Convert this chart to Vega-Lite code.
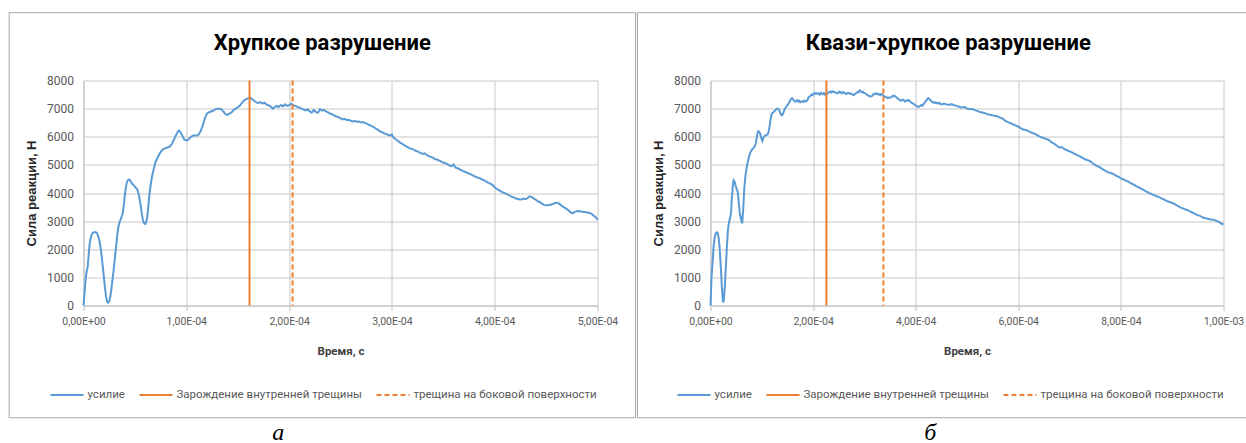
{
  "$schema": "https://vega.github.io/schema/vega-lite/v6.json",
  "padding": {"left": 8.5, "top": 11.5, "right": 0, "bottom": 0},
  "background": "white",
  "datasets": {
    "brittle": [
      {"t":0,"f":0},{"t":1e-6,"f":450},{"t":2e-6,"f":900},{"t":3e-6,"f":1200},{"t":4e-6,"f":1350},{"t":5e-6,"f":1800},{"t":6e-6,"f":2200},{"t":7e-6,"f":2400},{"t":8e-6,"f":2520},{"t":9e-6,"f":2580},{"t":10e-6,"f":2600},{"t":11e-6,"f":2610},{"t":12e-6,"f":2600},{"t":13e-6,"f":2580},{"t":14e-6,"f":2500},{"t":15e-6,"f":2380},{"t":16e-6,"f":2200},{"t":17e-6,"f":1950},{"t":18e-6,"f":1650},{"t":19e-6,"f":1300},{"t":20e-6,"f":950},{"t":21e-6,"f":600},{"t":22e-6,"f":300},{"t":23e-6,"f":130},{"t":24e-6,"f":100},{"t":25e-6,"f":150},{"t":26e-6,"f":300},{"t":27e-6,"f":550},{"t":28e-6,"f":850},{"t":29e-6,"f":1150},{"t":30e-6,"f":1500},{"t":31e-6,"f":1850},{"t":32e-6,"f":2200},{"t":33e-6,"f":2550},{"t":34e-6,"f":2800},{"t":35e-6,"f":2950},{"t":36e-6,"f":3050},{"t":37e-6,"f":3150},{"t":38e-6,"f":3250},{"t":39e-6,"f":3500},{"t":40e-6,"f":3850},{"t":41e-6,"f":4150},{"t":42e-6,"f":4350},{"t":43e-6,"f":4450},{"t":44e-6,"f":4480},{"t":45e-6,"f":4470},{"t":46e-6,"f":4400},{"t":47e-6,"f":4350},{"t":48e-6,"f":4300},{"t":49e-6,"f":4270},{"t":50e-6,"f":4220},{"t":51e-6,"f":4180},{"t":52e-6,"f":4150},{"t":53e-6,"f":4050},{"t":54e-6,"f":3900},{"t":55e-6,"f":3700},{"t":56e-6,"f":3450},{"t":57e-6,"f":3200},{"t":58e-6,"f":3000},{"t":59e-6,"f":2920},{"t":60e-6,"f":2900},{"t":61e-6,"f":2950},{"t":62e-6,"f":3150},{"t":63e-6,"f":3500},{"t":64e-6,"f":3900},{"t":65e-6,"f":4200},{"t":66e-6,"f":4450},{"t":67e-6,"f":4650},{"t":68e-6,"f":4800},{"t":69e-6,"f":4950},{"t":70e-6,"f":5100},{"t":72e-6,"f":5250},{"t":74e-6,"f":5400},{"t":76e-6,"f":5500},{"t":78e-6,"f":5570},{"t":80e-6,"f":5600},{"t":82e-6,"f":5620},{"t":84e-6,"f":5650},{"t":86e-6,"f":5750},{"t":88e-6,"f":5900},{"t":90e-6,"f":6050},{"t":92e-6,"f":6200},{"t":93e-6,"f":6220},{"t":94e-6,"f":6180},{"t":96e-6,"f":6050},{"t":98e-6,"f":5900},{"t":100e-6,"f":5870},{"t":102e-6,"f":5900},{"t":104e-6,"f":5980},{"t":106e-6,"f":6030},{"t":108e-6,"f":6050},{"t":110e-6,"f":6040},{"t":112e-6,"f":6080},{"t":114e-6,"f":6200},{"t":116e-6,"f":6400},{"t":118e-6,"f":6650},{"t":120e-6,"f":6820},{"t":122e-6,"f":6870},{"t":124e-6,"f":6900},{"t":126e-6,"f":6920},{"t":128e-6,"f":6970},{"t":130e-6,"f":7000},{"t":132e-6,"f":7000},{"t":134e-6,"f":6980},{"t":136e-6,"f":6900},{"t":138e-6,"f":6800},{"t":140e-6,"f":6780},{"t":142e-6,"f":6820},{"t":144e-6,"f":6870},{"t":146e-6,"f":6950},{"t":148e-6,"f":7000},{"t":150e-6,"f":7050},{"t":152e-6,"f":7100},{"t":154e-6,"f":7200},{"t":156e-6,"f":7280},{"t":158e-6,"f":7330},{"t":160e-6,"f":7370},{"t":162e-6,"f":7390},{"t":164e-6,"f":7340},{"t":166e-6,"f":7280},{"t":168e-6,"f":7220},{"t":170e-6,"f":7200},{"t":172e-6,"f":7230},{"t":174e-6,"f":7180},{"t":176e-6,"f":7210},{"t":178e-6,"f":7150},{"t":180e-6,"f":7120},{"t":182e-6,"f":7080},{"t":184e-6,"f":7000},{"t":186e-6,"f":7050},{"t":188e-6,"f":7100},{"t":190e-6,"f":7060},{"t":192e-6,"f":7130},{"t":194e-6,"f":7080},{"t":196e-6,"f":7150},{"t":198e-6,"f":7100},{"t":200e-6,"f":7120},{"t":202e-6,"f":7180},{"t":204e-6,"f":7120},{"t":206e-6,"f":7100},{"t":208e-6,"f":7060},{"t":210e-6,"f":7040},{"t":212e-6,"f":7000},{"t":214e-6,"f":6970},{"t":216e-6,"f":6940},{"t":218e-6,"f":6980},{"t":220e-6,"f":6900},{"t":222e-6,"f":6860},{"t":224e-6,"f":6950},{"t":226e-6,"f":6880},{"t":228e-6,"f":6850},{"t":230e-6,"f":6980},{"t":232e-6,"f":6930},{"t":234e-6,"f":6950},{"t":236e-6,"f":6900},{"t":238e-6,"f":6870},{"t":240e-6,"f":6820},{"t":242e-6,"f":6800},{"t":244e-6,"f":6750},{"t":246e-6,"f":6720},{"t":248e-6,"f":6700},{"t":250e-6,"f":6660},{"t":252e-6,"f":6620},{"t":254e-6,"f":6640},{"t":256e-6,"f":6590},{"t":258e-6,"f":6600},{"t":260e-6,"f":6570},{"t":262e-6,"f":6540},{"t":264e-6,"f":6560},{"t":266e-6,"f":6530},{"t":268e-6,"f":6540},{"t":270e-6,"f":6510},{"t":272e-6,"f":6520},{"t":274e-6,"f":6490},{"t":276e-6,"f":6460},{"t":278e-6,"f":6420},{"t":280e-6,"f":6380},{"t":282e-6,"f":6350},{"t":284e-6,"f":6300},{"t":286e-6,"f":6260},{"t":288e-6,"f":6200},{"t":290e-6,"f":6170},{"t":292e-6,"f":6130},{"t":294e-6,"f":6100},{"t":296e-6,"f":6070},{"t":298e-6,"f":6040},{"t":300e-6,"f":6080},{"t":301e-6,"f":6000},{"t":302e-6,"f":5960},{"t":304e-6,"f":5900},{"t":306e-6,"f":5850},{"t":308e-6,"f":5790},{"t":310e-6,"f":5750},{"t":312e-6,"f":5700},{"t":314e-6,"f":5660},{"t":316e-6,"f":5620},{"t":318e-6,"f":5580},{"t":320e-6,"f":5560},{"t":322e-6,"f":5520},{"t":324e-6,"f":5490},{"t":326e-6,"f":5460},{"t":328e-6,"f":5420},{"t":330e-6,"f":5390},{"t":332e-6,"f":5410},{"t":334e-6,"f":5350},{"t":336e-6,"f":5310},{"t":338e-6,"f":5280},{"t":340e-6,"f":5260},{"t":342e-6,"f":5200},{"t":344e-6,"f":5190},{"t":346e-6,"f":5150},{"t":348e-6,"f":5120},{"t":350e-6,"f":5080},{"t":352e-6,"f":5060},{"t":354e-6,"f":5020},{"t":356e-6,"f":4980},{"t":358e-6,"f":4950},{"t":360e-6,"f":5010},{"t":362e-6,"f":4900},{"t":364e-6,"f":4880},{"t":366e-6,"f":4840},{"t":368e-6,"f":4800},{"t":370e-6,"f":4770},{"t":372e-6,"f":4740},{"t":374e-6,"f":4700},{"t":376e-6,"f":4680},{"t":378e-6,"f":4640},{"t":380e-6,"f":4600},{"t":382e-6,"f":4570},{"t":384e-6,"f":4540},{"t":386e-6,"f":4520},{"t":388e-6,"f":4470},{"t":390e-6,"f":4450},{"t":392e-6,"f":4400},{"t":394e-6,"f":4360},{"t":396e-6,"f":4330},{"t":398e-6,"f":4280},{"t":400e-6,"f":4200},{"t":402e-6,"f":4150},{"t":404e-6,"f":4100},{"t":406e-6,"f":4060},{"t":408e-6,"f":4020},{"t":410e-6,"f":3990},{"t":412e-6,"f":3960},{"t":414e-6,"f":3920},{"t":416e-6,"f":3880},{"t":418e-6,"f":3850},{"t":420e-6,"f":3810},{"t":422e-6,"f":3790},{"t":424e-6,"f":3770},{"t":426e-6,"f":3770},{"t":428e-6,"f":3800},{"t":430e-6,"f":3780},{"t":432e-6,"f":3820},{"t":434e-6,"f":3880},{"t":436e-6,"f":3860},{"t":438e-6,"f":3800},{"t":440e-6,"f":3760},{"t":442e-6,"f":3700},{"t":444e-6,"f":3680},{"t":446e-6,"f":3620},{"t":448e-6,"f":3580},{"t":450e-6,"f":3560},{"t":452e-6,"f":3570},{"t":454e-6,"f":3580},{"t":456e-6,"f":3600},{"t":458e-6,"f":3630},{"t":460e-6,"f":3660},{"t":462e-6,"f":3640},{"t":464e-6,"f":3580},{"t":466e-6,"f":3520},{"t":468e-6,"f":3480},{"t":470e-6,"f":3430},{"t":472e-6,"f":3380},{"t":474e-6,"f":3300},{"t":476e-6,"f":3280},{"t":478e-6,"f":3330},{"t":480e-6,"f":3350},{"t":482e-6,"f":3360},{"t":484e-6,"f":3340},{"t":486e-6,"f":3330},{"t":488e-6,"f":3320},{"t":490e-6,"f":3310},{"t":492e-6,"f":3290},{"t":494e-6,"f":3270},{"t":496e-6,"f":3200},{"t":498e-6,"f":3150},{"t":500e-6,"f":3050}
    ],
    "quasi": [
      {"t":0,"f":0},{"t":2e-6,"f":1000},{"t":4e-6,"f":1500},{"t":6e-6,"f":2100},{"t":8e-6,"f":2400},{"t":10e-6,"f":2560},{"t":12e-6,"f":2600},{"t":14e-6,"f":2580},{"t":16e-6,"f":2400},{"t":18e-6,"f":2000},{"t":20e-6,"f":1400},{"t":22e-6,"f":700},{"t":24e-6,"f":200},{"t":25e-6,"f":100},{"t":26e-6,"f":200},{"t":28e-6,"f":700},{"t":30e-6,"f":1400},{"t":32e-6,"f":2100},{"t":34e-6,"f":2700},{"t":36e-6,"f":2950},{"t":38e-6,"f":3100},{"t":40e-6,"f":3300},{"t":42e-6,"f":3900},{"t":44e-6,"f":4350},{"t":45e-6,"f":4450},{"t":47e-6,"f":4400},{"t":49e-6,"f":4250},{"t":51e-6,"f":4150},{"t":53e-6,"f":4050},{"t":55e-6,"f":3700},{"t":57e-6,"f":3300},{"t":59e-6,"f":3100},{"t":61e-6,"f":2950},{"t":62e-6,"f":2950},{"t":64e-6,"f":3500},{"t":66e-6,"f":4200},{"t":68e-6,"f":4600},{"t":70e-6,"f":4850},{"t":72e-6,"f":5050},{"t":74e-6,"f":5200},{"t":76e-6,"f":5350},{"t":78e-6,"f":5450},{"t":80e-6,"f":5520},{"t":82e-6,"f":5570},{"t":84e-6,"f":5600},{"t":86e-6,"f":5650},{"t":88e-6,"f":5750},{"t":90e-6,"f":5950},{"t":92e-6,"f":6150},{"t":93e-6,"f":6200},{"t":95e-6,"f":6180},{"t":97e-6,"f":6100},{"t":99e-6,"f":5950},{"t":101e-6,"f":5850},{"t":103e-6,"f":5950},{"t":105e-6,"f":6020},{"t":107e-6,"f":6050},{"t":109e-6,"f":6060},{"t":111e-6,"f":6080},{"t":113e-6,"f":6150},{"t":115e-6,"f":6350},{"t":117e-6,"f":6600},{"t":119e-6,"f":6800},{"t":121e-6,"f":6850},{"t":123e-6,"f":6880},{"t":125e-6,"f":6920},{"t":127e-6,"f":6950},{"t":129e-6,"f":7000},{"t":131e-6,"f":7000},{"t":133e-6,"f":6980},{"t":135e-6,"f":6900},{"t":137e-6,"f":6800},{"t":139e-6,"f":6760},{"t":141e-6,"f":6800},{"t":143e-6,"f":6900},{"t":145e-6,"f":7000},{"t":147e-6,"f":7050},{"t":149e-6,"f":7100},{"t":151e-6,"f":7150},{"t":153e-6,"f":7200},{"t":155e-6,"f":7280},{"t":157e-6,"f":7350},{"t":159e-6,"f":7370},{"t":161e-6,"f":7330},{"t":163e-6,"f":7280},{"t":165e-6,"f":7250},{"t":167e-6,"f":7270},{"t":169e-6,"f":7300},{"t":171e-6,"f":7250},{"t":173e-6,"f":7280},{"t":175e-6,"f":7230},{"t":177e-6,"f":7250},{"t":179e-6,"f":7260},{"t":181e-6,"f":7240},{"t":183e-6,"f":7280},{"t":185e-6,"f":7250},{"t":187e-6,"f":7270},{"t":189e-6,"f":7300},{"t":191e-6,"f":7400},{"t":193e-6,"f":7430},{"t":195e-6,"f":7460},{"t":197e-6,"f":7500},{"t":199e-6,"f":7480},{"t":201e-6,"f":7530},{"t":203e-6,"f":7560},{"t":205e-6,"f":7530},{"t":207e-6,"f":7550},{"t":209e-6,"f":7520},{"t":211e-6,"f":7540},{"t":213e-6,"f":7500},{"t":215e-6,"f":7560},{"t":217e-6,"f":7530},{"t":219e-6,"f":7510},{"t":221e-6,"f":7550},{"t":223e-6,"f":7500},{"t":225e-6,"f":7530},{"t":227e-6,"f":7520},{"t":229e-6,"f":7560},{"t":231e-6,"f":7590},{"t":233e-6,"f":7600},{"t":235e-6,"f":7570},{"t":237e-6,"f":7620},{"t":239e-6,"f":7590},{"t":241e-6,"f":7600},{"t":243e-6,"f":7580},{"t":245e-6,"f":7560},{"t":247e-6,"f":7540},{"t":249e-6,"f":7570},{"t":251e-6,"f":7600},{"t":253e-6,"f":7560},{"t":255e-6,"f":7580},{"t":257e-6,"f":7550},{"t":259e-6,"f":7590},{"t":261e-6,"f":7560},{"t":263e-6,"f":7540},{"t":265e-6,"f":7520},{"t":267e-6,"f":7550},{"t":269e-6,"f":7560},{"t":271e-6,"f":7530},{"t":273e-6,"f":7540},{"t":275e-6,"f":7520},{"t":277e-6,"f":7500},{"t":279e-6,"f":7480},{"t":281e-6,"f":7520},{"t":283e-6,"f":7540},{"t":285e-6,"f":7560},{"t":287e-6,"f":7600},{"t":289e-6,"f":7580},{"t":291e-6,"f":7650},{"t":293e-6,"f":7620},{"t":295e-6,"f":7580},{"t":297e-6,"f":7600},{"t":299e-6,"f":7560},{"t":301e-6,"f":7550},{"t":303e-6,"f":7520},{"t":305e-6,"f":7500},{"t":307e-6,"f":7470},{"t":309e-6,"f":7450},{"t":311e-6,"f":7440},{"t":313e-6,"f":7430},{"t":315e-6,"f":7450},{"t":317e-6,"f":7500},{"t":319e-6,"f":7530},{"t":321e-6,"f":7510},{"t":323e-6,"f":7550},{"t":325e-6,"f":7530},{"t":327e-6,"f":7500},{"t":329e-6,"f":7510},{"t":331e-6,"f":7480},{"t":333e-6,"f":7520},{"t":335e-6,"f":7500},{"t":337e-6,"f":7460},{"t":339e-6,"f":7430},{"t":341e-6,"f":7420},{"t":343e-6,"f":7400},{"t":345e-6,"f":7380},{"t":347e-6,"f":7390},{"t":349e-6,"f":7380},{"t":351e-6,"f":7400},{"t":353e-6,"f":7420},{"t":355e-6,"f":7450},{"t":357e-6,"f":7440},{"t":359e-6,"f":7460},{"t":361e-6,"f":7420},{"t":363e-6,"f":7400},{"t":365e-6,"f":7360},{"t":367e-6,"f":7330},{"t":369e-6,"f":7300},{"t":371e-6,"f":7280},{"t":373e-6,"f":7300},{"t":375e-6,"f":7320},{"t":377e-6,"f":7300},{"t":379e-6,"f":7250},{"t":381e-6,"f":7270},{"t":383e-6,"f":7300},{"t":385e-6,"f":7280},{"t":387e-6,"f":7300},{"t":389e-6,"f":7260},{"t":391e-6,"f":7220},{"t":393e-6,"f":7200},{"t":395e-6,"f":7180},{"t":397e-6,"f":7160},{"t":399e-6,"f":7120},{"t":401e-6,"f":7100},{"t":403e-6,"f":7080},{"t":405e-6,"f":7060},{"t":407e-6,"f":7080},{"t":409e-6,"f":7100},{"t":411e-6,"f":7130},{"t":413e-6,"f":7100},{"t":415e-6,"f":7150},{"t":417e-6,"f":7200},{"t":419e-6,"f":7250},{"t":421e-6,"f":7300},{"t":423e-6,"f":7350},{"t":425e-6,"f":7370},{"t":427e-6,"f":7330},{"t":429e-6,"f":7300},{"t":431e-6,"f":7250},{"t":433e-6,"f":7220},{"t":435e-6,"f":7230},{"t":437e-6,"f":7200},{"t":439e-6,"f":7220},{"t":441e-6,"f":7190},{"t":443e-6,"f":7210},{"t":445e-6,"f":7180},{"t":447e-6,"f":7200},{"t":449e-6,"f":7160},{"t":451e-6,"f":7150},{"t":455e-6,"f":7180},{"t":460e-6,"f":7150},{"t":465e-6,"f":7130},{"t":470e-6,"f":7160},{"t":475e-6,"f":7120},{"t":480e-6,"f":7100},{"t":485e-6,"f":7060},{"t":490e-6,"f":7040},{"t":495e-6,"f":7060},{"t":500e-6,"f":7000},{"t":505e-6,"f":6980},{"t":510e-6,"f":6990},{"t":515e-6,"f":6950},{"t":520e-6,"f":6920},{"t":525e-6,"f":6880},{"t":530e-6,"f":6860},{"t":535e-6,"f":6840},{"t":540e-6,"f":6800},{"t":545e-6,"f":6780},{"t":550e-6,"f":6760},{"t":555e-6,"f":6740},{"t":560e-6,"f":6720},{"t":565e-6,"f":6680},{"t":570e-6,"f":6640},{"t":575e-6,"f":6560},{"t":580e-6,"f":6520},{"t":585e-6,"f":6480},{"t":590e-6,"f":6440},{"t":595e-6,"f":6400},{"t":600e-6,"f":6360},{"t":605e-6,"f":6300},{"t":610e-6,"f":6250},{"t":615e-6,"f":6240},{"t":620e-6,"f":6200},{"t":625e-6,"f":6150},{"t":630e-6,"f":6120},{"t":635e-6,"f":6080},{"t":640e-6,"f":6020},{"t":645e-6,"f":5980},{"t":650e-6,"f":5950},{"t":655e-6,"f":5920},{"t":660e-6,"f":5880},{"t":665e-6,"f":5800},{"t":670e-6,"f":5750},{"t":675e-6,"f":5680},{"t":680e-6,"f":5620},{"t":685e-6,"f":5630},{"t":690e-6,"f":5560},{"t":695e-6,"f":5520},{"t":700e-6,"f":5480},{"t":705e-6,"f":5440},{"t":710e-6,"f":5390},{"t":715e-6,"f":5350},{"t":720e-6,"f":5300},{"t":725e-6,"f":5250},{"t":730e-6,"f":5200},{"t":735e-6,"f":5170},{"t":740e-6,"f":5130},{"t":745e-6,"f":5060},{"t":750e-6,"f":4990},{"t":755e-6,"f":4950},{"t":760e-6,"f":4900},{"t":765e-6,"f":4840},{"t":770e-6,"f":4790},{"t":775e-6,"f":4740},{"t":780e-6,"f":4710},{"t":785e-6,"f":4680},{"t":790e-6,"f":4620},{"t":795e-6,"f":4580},{"t":800e-6,"f":4520},{"t":805e-6,"f":4480},{"t":810e-6,"f":4440},{"t":815e-6,"f":4400},{"t":820e-6,"f":4340},{"t":825e-6,"f":4300},{"t":830e-6,"f":4240},{"t":835e-6,"f":4200},{"t":840e-6,"f":4150},{"t":845e-6,"f":4100},{"t":850e-6,"f":4050},{"t":855e-6,"f":4000},{"t":860e-6,"f":3960},{"t":865e-6,"f":3920},{"t":870e-6,"f":3880},{"t":875e-6,"f":3850},{"t":880e-6,"f":3800},{"t":885e-6,"f":3760},{"t":890e-6,"f":3710},{"t":895e-6,"f":3680},{"t":900e-6,"f":3650},{"t":905e-6,"f":3600},{"t":910e-6,"f":3550},{"t":915e-6,"f":3500},{"t":920e-6,"f":3460},{"t":925e-6,"f":3420},{"t":930e-6,"f":3390},{"t":935e-6,"f":3340},{"t":940e-6,"f":3300},{"t":945e-6,"f":3250},{"t":950e-6,"f":3210},{"t":955e-6,"f":3180},{"t":960e-6,"f":3130},{"t":965e-6,"f":3100},{"t":970e-6,"f":3080},{"t":975e-6,"f":3060},{"t":980e-6,"f":3050},{"t":985e-6,"f":3020},{"t":990e-6,"f":2980},{"t":995e-6,"f":2920},{"t":1000e-6,"f":2880}
    ]
  },
  "hconcat": [
    {
      "title": {"text": "а", "orient": "bottom", "anchor": "middle", "font": "Liberation Serif", "fontStyle": "italic", "fontWeight": "normal", "fontSize": 24, "color": "#000000", "offset": 3, "dx": -44, "frame": "bounds"},
      "vconcat": [
        {
          "width": 514,
          "height": 225,
          "title": {"text": "Хрупкое разрушение", "offset": -43, "anchor": "middle", "frame": "bounds"},
          "layer": [
            {
              "data": {"name": "brittle"},
              "mark": {"type": "line", "strokeWidth": 2},
              "encoding": {
                "x": {"field": "t", "type": "quantitative", "scale": {"domain": [0, 0.0005], "nice": false},
                  "axis": {"values": [0, 0.0001, 0.0002, 0.0003, 0.0004, 0.0005], "grid": true, "labelOverlap": false, "labelExpr": "replace(replace(replace(replace(format(datum.value, '.2e'), '.', ','), 'e+', 'E+0'), 'e-', 'E-0'), 'e−', 'E-0')", "title": "Время, с"}},
                "y": {"field": "f", "type": "quantitative", "scale": {"domain": [0, 8000], "nice": false},
                  "axis": {"values": [0, 1000, 2000, 3000, 4000, 5000, 6000, 7000, 8000], "grid": true, "labelOverlap": false, "format": "d", "title": "Сила реакции, Н"}},
                "color": {"datum": "усилие", "type": "nominal", "scale": {"domain": ["усилие", "Зарождение внутренней трещины", "трещина на боковой поверхности"], "range": ["#5b9bd5", "#ed7d31", "#ed7d31"]}},
                "strokeDash": {"datum": "усилие", "type": "nominal", "scale": {"domain": ["усилие", "Зарождение внутренней трещины", "трещина на боковой поверхности"], "range": [[1, 0], [1, 0], [5, 3]]}}
              }
            },
            {
              "data": {"values": [{"t": 1.615e-4, "series": "Зарождение внутренней трещины"}, {"t": 2.034e-4, "series": "трещина на боковой поверхности"}]},
              "mark": {"type": "rule", "strokeWidth": 2},
              "encoding": {
                "x": {"field": "t", "type": "quantitative"},
                "color": {"field": "series", "type": "nominal"},
                "strokeDash": {"field": "series", "type": "nominal"}
              }
            },
            {
              "data": {"values": [{}]},
              "mark": {"type": "rect", "fill": null, "stroke": "#a6a6a6", "strokeWidth": 1, "clip": false},
              "encoding": {
                "x": {"datum": -7.23e-5, "type": "quantitative",
                  "axis": {"values": [0, 0.0001, 0.0002, 0.0003, 0.0004, 0.0005], "grid": true, "labelOverlap": false, "labelExpr": "replace(replace(replace(replace(format(datum.value, '.2e'), '.', ','), 'e+', 'E+0'), 'e-', 'E-0'), 'e−', 'E-0')", "title": "Время, с"}},
                "x2": {"datum": 5.37e-4},
                "y": {"datum": 10412, "type": "quantitative",
                  "axis": {"values": [0, 1000, 2000, 3000, 4000, 5000, 6000, 7000, 8000], "grid": true, "labelOverlap": false, "format": "d", "title": "Сила реакции, Н"}},
                "y2": {"datum": -3991}
              }
            }
          ]
        }
      ]
    },
    {
      "title": {"text": "б", "orient": "bottom", "anchor": "middle", "font": "Liberation Serif", "fontStyle": "italic", "fontWeight": "normal", "fontSize": 24, "color": "#000000", "offset": 3, "dx": -13, "frame": "bounds"},
      "vconcat": [
        {
          "width": 513,
          "height": 225,
          "title": {"text": "Квази-хрупкое разрушение", "offset": -43, "anchor": "middle", "frame": "bounds", "dx": 5},
          "layer": [
            {
              "data": {"name": "quasi"},
              "mark": {"type": "line", "strokeWidth": 2},
              "encoding": {
                "x": {"field": "t", "type": "quantitative", "scale": {"domain": [0, 0.001], "nice": false},
                  "axis": {"values": [0, 0.0002, 0.0004, 0.0006, 0.0008, 0.001], "grid": true, "labelOverlap": false, "labelExpr": "replace(replace(replace(replace(format(datum.value, '.2e'), '.', ','), 'e+', 'E+0'), 'e-', 'E-0'), 'e−', 'E-0')", "title": "Время, с"}},
                "y": {"field": "f", "type": "quantitative", "scale": {"domain": [0, 8000], "nice": false},
                  "axis": {"values": [0, 1000, 2000, 3000, 4000, 5000, 6000, 7000, 8000], "grid": true, "labelOverlap": false, "format": "d", "title": "Сила реакции, Н"}},
                "color": {"datum": "усилие", "type": "nominal", "scale": {"domain": ["усилие", "Зарождение внутренней трещины", "трещина на боковой поверхности"], "range": ["#5b9bd5", "#ed7d31", "#ed7d31"]}},
                "strokeDash": {"datum": "усилие", "type": "nominal", "scale": {"domain": ["усилие", "Зарождение внутренней трещины", "трещина на боковой поверхности"], "range": [[1, 0], [1, 0], [5, 3]]}}
              }
            },
            {
              "data": {"values": [{"t": 2.26e-4, "series": "Зарождение внутренней трещины"}, {"t": 3.37e-4, "series": "трещина на боковой поверхности"}]},
              "mark": {"type": "rule", "strokeWidth": 2},
              "encoding": {
                "x": {"field": "t", "type": "quantitative"},
                "color": {"field": "series", "type": "nominal"},
                "strokeDash": {"field": "series", "type": "nominal"}
              }
            },
            {
              "data": {"values": [{}]},
              "mark": {"type": "rect", "fill": null, "stroke": "#a6a6a6", "strokeWidth": 1, "clip": false},
              "encoding": {
                "x": {"datum": -1.424e-4, "type": "quantitative",
                  "axis": {"values": [0, 0.0002, 0.0004, 0.0006, 0.0008, 0.001], "grid": true, "labelOverlap": false, "labelExpr": "replace(replace(replace(replace(format(datum.value, '.2e'), '.', ','), 'e+', 'E+0'), 'e-', 'E-0'), 'e−', 'E-0')", "title": "Время, с"}},
                "x2": {"datum": 1.05e-3},
                "y": {"datum": 10412, "type": "quantitative",
                  "axis": {"values": [0, 1000, 2000, 3000, 4000, 5000, 6000, 7000, 8000], "grid": true, "labelOverlap": false, "format": "d", "title": "Сила реакции, Н"}},
                "y2": {"datum": -3991}
              }
            }
          ]
        }
      ]
    }
  ],
  "spacing": 0,
  "resolve": {"scale": {"color": "independent", "strokeDash": "independent"}},
  "config": {
    "view": {"stroke": null},
    "font": "Roboto",
    "title": {"font": "Roboto", "fontSize": 22, "fontWeight": "bold", "color": "#000000"},
    "axis": {
      "gridColor": "#c8c8c8",
      "domainColor": "#bfbfbf",
      "tickColor": "#bfbfbf",
      "labelColor": "#595959",
      "labelFont": "Roboto",
      "labelFontSize": 12,
      "titleFont": "Roboto",
      "titleFontSize": 11.5,
      "titleFontWeight": "bold",
      "titleColor": "#404040"
    },
    "axisX": {"tickSize": 5, "labelPadding": 6, "titlePadding": 18, "labelFlush": false, "labelFontSize": 10.5},
    "axisY": {"ticks": false, "labelPadding": 10, "titleFont": "Liberation Sans", "titleFontSize": 13, "titleColor": "#262626", "titlePadding": 8},
    "legend": {
      "orient": "none",
      "legendX": -34,
      "legendY": 297,
      "direction": "horizontal",
      "title": null,
      "symbolType": "stroke",
      "symbolSize": 1089,
      "symbolStrokeWidth": 2,
      "labelFont": "Roboto",
      "labelFontSize": 11.5,
      "labelColor": "#595959",
      "labelOffset": 3,
      "columnPadding": 10,
      "labelLimit": 400
    }
  }
}
